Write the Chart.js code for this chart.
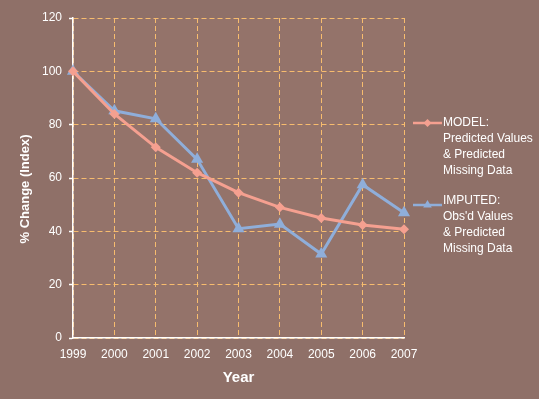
<!DOCTYPE html>
<html>
<head>
<meta charset="utf-8">
<script src="https://cdn.jsdelivr.net/npm/chart.js@4/dist/chart.umd.min.js"></script>
<style>
  html, body { margin: 0; padding: 0; background: #90716A; }
  #wrap { width: 539px; height: 399px; }
</style>
</head>
<body>
<div id="wrap"><canvas id="c" width="539" height="399"></canvas></div>
<script>
const years = ['1999','2000','2001','2002','2003','2004','2005','2006','2007'];
const modelValues = [100, 84, 71.5, 62, 54.5, 49, 45, 42.4, 40.8];
const imputedValues = [100, 85.2, 82.2, 67, 41, 42.7, 31.5, 57.5, 47];
const modelLabel = ['MODEL:', 'Predicted Values', '& Predicted', 'Missing Data'];
const imputedLabel = ['IMPUTED:', "Obs'd Values", '& Predicted', 'Missing Data'];
const yTicks = [0, 20, 40, 60, 80, 100, 120];
const yTitle = '% Change (Index)';

const pink = '#F5A090';
const blue = '#8FAEDA';
const gridCol = '#F7BC6E';
const txt = '#FFFFFF';
const fam = '"Liberation Sans", Arial, sans-serif';

const bgPlugin = {
  id: 'bg',
  beforeDraw(chart) {
    const ctx = chart.ctx;
    ctx.save();
    ctx.fillStyle = '#8F7068';
    ctx.fillRect(0, 0, chart.width, chart.height);
    const a = chart.chartArea;
    ctx.fillStyle = '#94736A';
    ctx.fillRect(a.left, a.top, a.right - a.left, a.bottom - a.top);
    ctx.restore();
  }
};

const yTitlePlugin = {
  id: 'yTitle',
  afterDraw(chart) {
    const ctx = chart.ctx;
    const a = chart.chartArea;
    ctx.save();
    ctx.translate(25, (a.top + a.bottom) / 2 + 11);
    ctx.rotate(-Math.PI / 2);
    ctx.fillStyle = txt;
    ctx.font = 'bold 13px ' + fam;
    ctx.textAlign = 'center';
    ctx.textBaseline = 'middle';
    ctx.fillText(yTitle, 0, 0);
    ctx.restore();
  }
};

const legendPlugin = {
  id: 'customLegend',
  afterDraw(chart) {
    const ctx = chart.ctx;
    const a = chart.chartArea;
    const x0 = a.right + 9;
    const x1 = a.right + 38;
    const tx = a.right + 39;
    const groups = [
      { lines: chart.data.datasets[0].label, y: 123, color: pink, style: 'rectRot', r: 4 },
      { lines: chart.data.datasets[1].label, y: 201, color: blue, style: 'triangle', r: 5 }
    ];
    ctx.save();
    groups.forEach(g => {
      const ly = g.style === 'triangle' ? g.y + 4 : g.y;
      ctx.strokeStyle = g.color;
      ctx.lineWidth = 2.5;
      ctx.beginPath();
      ctx.moveTo(x0, ly);
      ctx.lineTo(x1, ly);
      ctx.stroke();
      ctx.fillStyle = g.color;
      Chart.helpers.drawPoint(ctx, { pointStyle: g.style, radius: g.r, borderWidth: 0 }, (x0 + x1) / 2, ly);
      ctx.fillStyle = txt;
      ctx.font = '12px ' + fam;
      ctx.textBaseline = 'middle';
      ctx.textAlign = 'left';
      g.lines.forEach((s, i) => ctx.fillText(s, tx, g.y + i * 16));
    });
    ctx.restore();
  }
};

new Chart(document.getElementById('c'), {
  type: 'line',
  data: {
    labels: years,
    datasets: [
      {
        label: modelLabel,
        data: modelValues,
        borderColor: pink,
        backgroundColor: pink,
        borderWidth: 3,
        pointStyle: 'rectRot',
        pointRadius: 5,
        pointBorderWidth: 0,
        tension: 0
      },
      {
        label: imputedLabel,
        data: imputedValues,
        borderColor: blue,
        backgroundColor: blue,
        borderWidth: 3,
        pointStyle: 'triangle',
        pointRadius: 7,
        pointBorderWidth: 0,
        tension: 0
      }
    ]
  },
  options: {
    responsive: false,
    animation: false,
    devicePixelRatio: 1,
    layout: { padding: { left: 0, top: 18, right: 135, bottom: 0 } },
    plugins: { legend: { display: false }, tooltip: { enabled: false } },
    scales: {
      x: {
        type: 'category',
        offset: false,
        grid: { color: gridCol, lineWidth: 1, drawTicks: false, offset: false },
        border: { display: true, color: '#FFFFFF', width: 1.5, dash: [5, 3] },
        ticks: { color: txt, font: { family: fam, size: 12 }, padding: 9, maxRotation: 0, autoSkip: false },
        title: { display: true, text: 'Year', color: txt, font: { family: fam, size: 15, weight: 'bold' }, padding: { top: 0, bottom: 12 } },
        afterFit(scale) { scale.height = 61; }
      },
      y: {
        min: 0, max: 120,
        afterBuildTicks(scale) { scale.ticks = yTicks.map(v => ({ value: v })); },
        grid: { color: gridCol, lineWidth: 1, drawTicks: true, tickLength: 4, tickColor: '#FFFFFF', tickWidth: 1.5 },
        border: { display: true, color: '#FFFFFF', width: 1.5, dash: [5, 3] },
        ticks: { color: txt, font: { family: fam, size: 12 }, padding: 7 },
        title: { display: false },
        afterFit(scale) { scale.width = 73; }
      }
    }
  },
  plugins: [bgPlugin, yTitlePlugin, legendPlugin]
});
</script>
</body>
</html>
